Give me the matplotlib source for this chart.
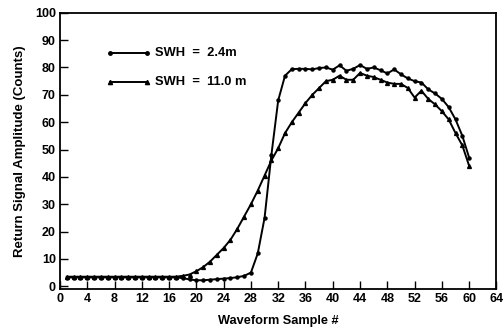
import matplotlib
matplotlib.use("Agg")
import matplotlib.pyplot as plt

samples = list(range(1, 61))

swh_2_4 = [3.2] * 17 + [3.0, 2.5, 2.2, 2.2, 2.4, 2.6, 2.8, 3.0, 3.3, 3.8,
                        5.0, 12.0, 25.0, 48.0, 68.0, 77.0, 79.4, 79.5, 79.5, 79.3,
                        79.8, 80.0, 79.2, 80.8, 78.8, 79.5, 80.9, 79.5, 80.0, 79.0,
                        77.8, 79.3, 77.5, 76.0, 75.0, 74.5, 72.0, 70.5, 68.5, 65.5,
                        61.0, 55.0, 47.0]

swh_11_0 = [3.5] * 16 + [3.5, 3.8, 4.3, 5.5, 7.0, 9.0, 11.5, 14.0, 17.0, 21.0,
                         25.5, 30.0, 35.0, 40.5, 46.0, 50.5, 56.0, 60.0, 63.5, 67.0,
                         70.0, 72.5, 75.0, 75.5, 77.0, 75.5, 75.5, 78.0, 77.0, 76.5,
                         75.5, 74.5, 74.0, 74.0, 72.5, 69.0, 71.5, 68.5, 66.5, 64.0,
                         61.0, 56.0, 51.5, 44.0]

legend_labels = ["SWH  =  2.4m", "SWH  =  11.0 m"]
xticks = list(range(0, 65, 4))
yticks = list(range(0, 101, 10))

plt.rcParams['font.family'] = ['Liberation Sans', 'DejaVu Sans']

fig = plt.figure(figsize=(5.04, 3.32), dpi=100)
ax = fig.add_axes([0.119, 0.1295, 0.866, 0.832])

ax.plot(samples, swh_2_4, color='black', lw=1.4, marker='o', ms=2.2)
ax.plot(samples, swh_11_0, color='black', lw=1.4, marker='^', ms=2.8)

ax.set_xlim(0, 64)
ax.set_ylim(-1, 100)
ax.set_xticks(xticks)
ax.set_yticks(yticks)
ax.tick_params(direction='in', length=6, width=1.0, labelsize=9, pad=3)
for lab in ax.get_xticklabels() + ax.get_yticklabels():
    lab.set_fontweight('bold')
for s in ax.spines.values():
    s.set_linewidth(1.3)

ax.set_xlabel("Waveform Sample #", fontsize=9.2, fontweight='bold', labelpad=7)
ax.set_ylabel("Return Signal Amplitude (Counts)", fontsize=9.5, fontweight='bold', labelpad=6)

# manual legend
for yy, mk, ms, lab in [(0.855, 'o', 2.5, legend_labels[0]), (0.75, '^', 3.0, legend_labels[1])]:
    ax.plot([0.114, 0.2], [yy, yy], transform=ax.transAxes, color='black', lw=1.4,
            marker=mk, ms=ms)
    ax.text(0.218, yy, lab, transform=ax.transAxes, fontsize=9.3, fontweight='bold',
            va='center', ha='left')

fig.savefig("out.png", dpi=100)
